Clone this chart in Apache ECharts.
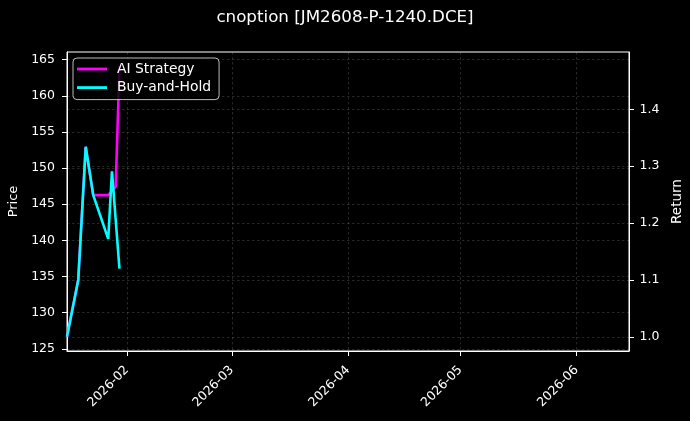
<!DOCTYPE html>
<html>
<head>
<meta charset="utf-8">
<script src="https://cdn.jsdelivr.net/npm/echarts@6/dist/echarts.min.js"></script>
<style>
html,body{margin:0;padding:0;background:#000;}
#chart{width:690px;height:421px;}
</style>
</head>
<body>
<div id="chart"></div>
<script>
// ---- data ----
const titleText = 'cnoption [JM2608-P-1240.DCE]';
const aiDates = ['2026-01-16','2026-01-19','2026-01-21','2026-01-23','2026-01-26','2026-01-27','2026-01-28','2026-01-29','2026-01-30'];
const aiValues = [1.0, 1.10, 1.334, 1.249, 1.249, 1.249, 1.256, 1.264, 1.476];
const bhDates = ['2026-01-16','2026-01-19','2026-01-21','2026-01-23','2026-01-27','2026-01-28','2026-01-30'];
const bhValues = [1.0, 1.10, 1.334, 1.249, 1.172, 1.291, 1.120];
const priceTicks = [125, 130, 135, 140, 145, 150, 155, 160, 165];
const returnTicks = [1.0, 1.1, 1.2, 1.3, 1.4];
const monthTicks = ['2026-02-01','2026-03-01','2026-04-01','2026-05-01','2026-06-01'];
const xRange = ['2026-01-16', '2026-06-15'];
const priceRange = [124.71, 166.05];
const returnRange = [0.975, 1.5007];

function localTs(s){ const p = s.split('-').map(Number); return new Date(p[0], p[1]-1, p[2]).getTime(); }
function pad(n){ return (n<10?'0':'')+n; }

const aiData = aiDates.map((d,i)=>[localTs(d), aiValues[i]]);
const bhData = bhDates.map((d,i)=>[localTs(d), bhValues[i]]);
const monthTs = monthTicks.map(localTs);

const font = 'DejaVu Sans';
const gridLine = {show:true, lineStyle:{color:'rgba(255,255,255,0.22)', type:[2.5,2.5], width:0.7}};

const chart = echarts.init(document.getElementById('chart'), null, {renderer:'canvas'});
chart.setOption({
  backgroundColor:'#000000',
  animation:false,
  textStyle:{fontFamily:font},
  title:{
    text:titleText, left:'center', top:9, padding:[0,0,0,6],
    textStyle:{color:'#ffffff', fontSize:16.7, fontWeight:'normal', fontFamily:font}
  },
  legend:{
    orient:'vertical', left:73, top:58,
    padding:[4,8,5,4], itemGap:4.6,
    itemWidth:30, itemHeight:2.8, icon:'rect',
    backgroundColor:'rgba(0,0,0,0.8)', borderColor:'rgba(220,220,220,0.85)', borderWidth:1, borderRadius:4,
    textStyle:{color:'#ffffff', fontSize:13.9, fontFamily:font, padding:[0,0,0,5]},
    data:['AI Strategy','Buy-and-Hold']
  },
  grid:{left:67, right:61, top:52, bottom:70, containLabel:false, outerBoundsMode:'none',
        show:true, borderColor:'#ffffff', borderWidth:1, backgroundColor:'transparent'},
  xAxis:{
    type:'value', min:localTs(xRange[0]), max:localTs(xRange[1]),
    axisLine:{show:true, onZero:false, lineStyle:{color:'#ffffff', width:1}},
    axisTick:{show:true, length:5, lineStyle:{color:'#ffffff'}, customValues:monthTs},
    axisLabel:{color:'#ffffff', fontSize:12.5, fontFamily:font, rotate:45, margin:17,
      customValues:monthTs,
      formatter:function(v){ const d=new Date(v); return d.getFullYear()+'-'+pad(d.getMonth()+1); }},
    splitLine:gridLine
  },
  yAxis:[{
    type:'value', position:'left', min:priceRange[0], max:priceRange[1],
    name:'Price', nameLocation:'middle', nameGap:40,
    nameTextStyle:{color:'#ffffff', fontSize:13, fontFamily:font},
    axisLine:{show:true, lineStyle:{color:'#ffffff', width:1}},
    axisTick:{show:true, length:5, lineStyle:{color:'#ffffff'}, customValues:priceTicks},
    axisLabel:{color:'#ffffff', fontSize:12.5, fontFamily:font, margin:12, customValues:priceTicks,
      formatter:function(v){ return String(Math.round(v)); }},
    splitLine:gridLine
  },{
    type:'value', position:'right', min:returnRange[0], max:returnRange[1],
    name:'Return', nameLocation:'middle', nameGap:34,
    nameTextStyle:{color:'#ffffff', fontSize:13.5, fontFamily:font},
    axisLine:{show:true, lineStyle:{color:'#ffffff', width:1}},
    axisTick:{show:true, length:5, lineStyle:{color:'#ffffff'}, customValues:returnTicks},
    axisLabel:{color:'#ffffff', fontSize:12.5, fontFamily:font, margin:10.5, customValues:returnTicks,
      formatter:function(v){ return v.toFixed(1); }},
    splitLine:gridLine
  }],
  series:[{
    name:'AI Strategy', type:'line', yAxisIndex:1, data:aiData,
    showSymbol:false, symbol:'none', lineStyle:{color:'#ff00ff', width:2.6}, itemStyle:{color:'#ff00ff'}, z:2
  },{
    name:'Buy-and-Hold', type:'line', yAxisIndex:1, data:bhData,
    showSymbol:false, symbol:'none', lineStyle:{color:'#00ffff', width:2.6}, itemStyle:{color:'#00ffff'}, z:3
  }]
});
</script>
</body>
</html>
